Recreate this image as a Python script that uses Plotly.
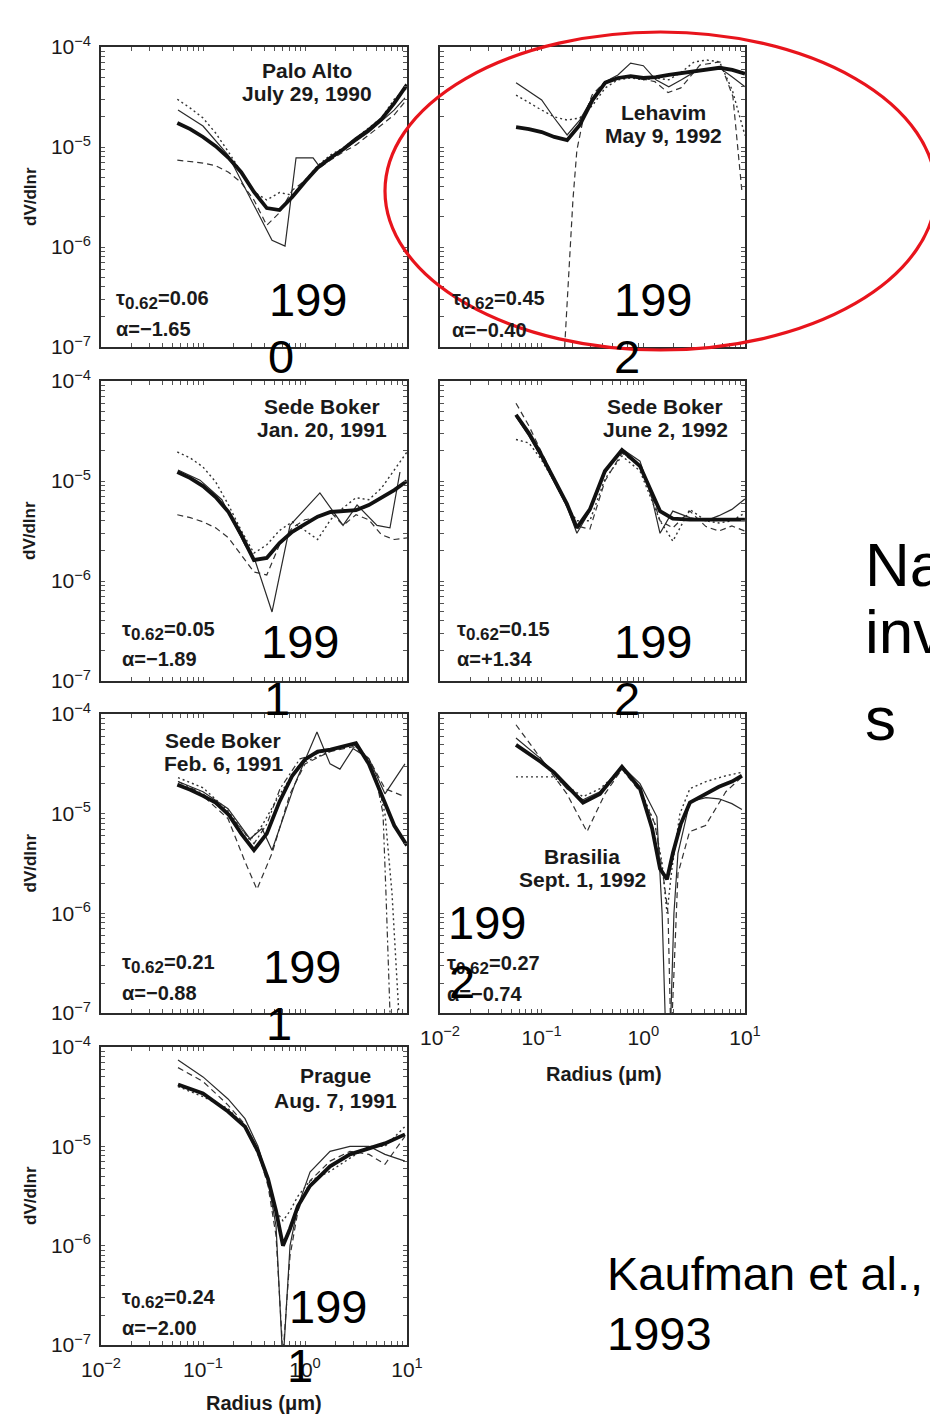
import plotly.graph_objects as go

# ---------------- data (radius in micrometres, dV/dlnr) ----------------
GRID = [0.056, 0.075, 0.1, 0.133, 0.178, 0.237, 0.316, 0.422, 0.562, 0.75,
        1.0, 1.33, 1.78, 2.37, 3.16, 4.22, 5.62, 7.5, 10.0]

# Palo Alto, July 29, 1990
PA_thick = [1.74e-5, 1.51e-5, 1.26e-5, 1.02e-5, 7.8e-6, 5.6e-6, 3.55e-6, 2.45e-6, 2.34e-6, 3.16e-6,
            4.5e-6, 6.2e-6, 7.8e-6, 9.5e-6, 1.2e-5, 1.48e-5, 1.9e-5, 2.75e-5, 4.2e-5]
PA_dash = [7.4e-6, 7.2e-6, 6.9e-6, 6.5e-6, 5.6e-6, 4.4e-6, 2.95e-6, 1.65e-6, 2.2e-6, 3.7e-6,
           4.6e-6, 6.0e-6, 7.4e-6, 8.9e-6, 1.05e-5, 1.32e-5, 1.66e-5, 2.1e-5, 3.0e-5]
PA_dot = [3.0e-5, 2.45e-5, 1.95e-5, 1.38e-5, 8.9e-6, 5.6e-6, 3.55e-6, 2.95e-6, 3.5e-6, 3.3e-6,
          4.7e-6, 6.5e-6, 8.3e-6, 9.8e-6, 1.23e-5, 1.55e-5, 1.95e-5, 3.0e-5, 3.9e-5]
PA_thin_r = [0.0569, 0.1, 0.176, 0.316, 0.475, 0.637, 0.817, 1.20, 1.40, 2.36, 4.24, 7.47, 9.55]
PA_thin = [2.34e-5, 1.62e-5, 8.3e-6, 2.6e-6, 1.17e-6, 1.02e-6, 7.8e-6, 7.8e-6, 6.3e-6, 9.3e-6,
           1.41e-5, 2.34e-5, 3.1e-5]

# Lehavim, May 9, 1992
LE_thick = [1.58e-5, 1.51e-5, 1.41e-5, 1.26e-5, 1.17e-5, 1.66e-5, 2.95e-5, 4.4e-5, 4.9e-5, 5.1e-5,
            4.9e-5, 5.0e-5, 5.25e-5, 5.5e-5, 5.75e-5, 6.0e-5, 6.2e-5, 5.9e-5, 5.4e-5]
LE_thin = [4.4e-5, 3.6e-5, 2.95e-5, 1.95e-5, 1.32e-5, 1.86e-5, 3.1e-5, 4.5e-5, 5.25e-5, 6.9e-5,
           6.5e-5, 4.7e-5, 4.0e-5, 4.7e-5, 5.6e-5, 5.9e-5, 6.2e-5, 5.0e-5, 4.0e-5]
LE_dot = [3.3e-5, 2.75e-5, 2.34e-5, 2.0e-5, 1.86e-5, 1.95e-5, 2.6e-5, 3.9e-5, 4.7e-5, 4.9e-5,
          4.7e-5, 4.9e-5, 4.7e-5, 5.6e-5, 7.1e-5, 7.4e-5, 7.1e-5, 3.7e-5, 1.3e-5]
LE_dash_r = [0.162, 0.169, 0.190, 0.203, 0.222, 0.255, 0.313, 0.419, 0.738, 1.30, 1.75, 2.34,
             3.6, 5.67, 7.6, 8.5, 9.3]
LE_dash = [5e-8, 1.1e-7, 7.4e-7, 2.95e-6, 9.3e-6, 1.86e-5, 3.3e-5, 4.5e-5, 5.1e-5, 4.5e-5, 3.5e-5,
           3.9e-5, 6.6e-5, 7.1e-5, 3.2e-5, 1.0e-5, 3.7e-6]

# Sede Boker, Jan. 20, 1991
SBJ_thick = [1.23e-5, 1.07e-5, 8.9e-6, 6.9e-6, 4.9e-6, 2.9e-6, 1.62e-6, 1.7e-6, 2.4e-6, 3.1e-6,
             3.7e-6, 4.4e-6, 4.9e-6, 5.0e-6, 5.1e-6, 5.75e-6, 6.8e-6, 8.1e-6, 1.0e-5]
SBJ_dash = [4.6e-6, 4.3e-6, 3.9e-6, 3.4e-6, 2.7e-6, 1.8e-6, 1.23e-6, 1.15e-6, 2.3e-6, 3.4e-6,
            4.1e-6, 4.3e-6, 4.9e-6, 3.6e-6, 4.6e-6, 4.1e-6, 2.9e-6, 2.6e-6, 2.7e-6]
SBJ_dot = [1.95e-5, 1.7e-5, 1.38e-5, 9.8e-6, 5.75e-6, 3.2e-6, 1.9e-6, 2.3e-6, 3.2e-6, 3.9e-6,
           3.2e-6, 2.6e-6, 4.1e-6, 5.4e-6, 6.8e-6, 6.5e-6, 8.5e-6, 1.29e-5, 1.95e-5]
SBJ_thin_r = [0.0569, 0.0935, 0.153, 0.258, 0.324, 0.475, 0.713, 1.40, 2.36, 3.24, 5.08, 6.81, 8.53]
SBJ_thin = [1.29e-5, 1.02e-5, 6.5e-6, 2.3e-6, 1.6e-6, 4.9e-7, 3.6e-6, 7.6e-6, 3.6e-6, 5.75e-6,
            3.6e-6, 3.4e-6, 1.23e-5]

# Sede Boker, June 2, 1992
SBN_r = [0.0559, 0.075, 0.0984, 0.132, 0.177, 0.222, 0.298, 0.419, 0.616, 0.927, 1.22, 1.46,
         1.95, 2.87, 4.13, 5.54, 7.43, 9.98]
SBN_thick = [4.6e-5, 3.0e-5, 1.86e-5, 1.05e-5, 5.9e-6, 3.4e-6, 5.2e-6, 1.26e-5, 2.04e-5, 1.41e-5,
             7.6e-6, 5.0e-6, 4.2e-6, 4.1e-6, 4.1e-6, 4.1e-6, 4.1e-6, 4.1e-6]
SBN_thin = [4.4e-5, 2.8e-5, 1.74e-5, 1.0e-5, 5.6e-6, 3.0e-6, 5.0e-6, 1.2e-5, 2.1e-5, 1.58e-5,
            6.6e-6, 3.0e-6, 5.0e-6, 4.3e-6, 4.0e-6, 4.5e-6, 5.2e-6, 6.6e-6]
SBN_dash = [6.0e-5, 3.55e-5, 2.0e-5, 1.1e-5, 5.9e-6, 3.55e-6, 3.3e-6, 1.0e-5, 1.9e-5, 1.41e-5,
            7.1e-6, 4.0e-6, 3.4e-6, 5.0e-6, 3.5e-6, 3.16e-6, 3.55e-6, 3.16e-6]
SBN_dot = [2.6e-5, 2.4e-5, 1.66e-5, 1.0e-5, 5.6e-6, 4.0e-6, 4.0e-6, 1.05e-5, 1.78e-5, 1.26e-5,
           6.3e-6, 4.0e-6, 2.5e-6, 5.2e-6, 4.0e-6, 3.8e-6, 4.0e-6, 4.8e-6]

# Sede Boker, Feb. 6, 1991
SBF_thick = [1.95e-5, 1.74e-5, 1.51e-5, 1.29e-5, 9.8e-6, 6.3e-6, 4.3e-6, 6.3e-6, 1.32e-5, 2.4e-5,
             3.5e-5, 4.2e-5, 4.4e-5, 4.7e-5, 5.1e-5, 3.16e-5, 1.58e-5, 7.6e-6, 4.8e-6]
SBF_thin_r = [0.0569, 0.1, 0.176, 0.289, 0.379, 0.475, 0.798, 1.31, 1.76, 2.20, 2.96, 4.24, 6.08, 9.55]
SBF_thin = [2.1e-5, 1.66e-5, 1.12e-5, 5.6e-6, 7.1e-6, 4.3e-6, 2.0e-5, 6.6e-5, 3.16e-5, 2.8e-5,
            4.5e-5, 3.55e-5, 1.58e-5, 3.16e-5]
SBF_dash_r = [0.0569, 0.1, 0.176, 0.258, 0.338, 0.475, 0.713, 1.0, 1.76, 2.96, 4.24, 6.08, 9.55]
SBF_dash = [2.0e-5, 1.51e-5, 8.9e-6, 3.3e-6, 1.74e-6, 4.0e-6, 1.58e-5, 3.16e-5, 4.2e-5, 4.7e-5,
            3.55e-5, 1.78e-5, 1.48e-5]
SBF_dot_r = [0.0569, 0.1, 0.176, 0.289, 0.379, 0.569, 0.893, 1.76, 2.96, 4.24, 5.2, 6.08, 7.13,
             7.98, 8.53]
SBF_dot = [2.3e-5, 1.82e-5, 1.07e-5, 5.4e-6, 7.6e-6, 1.58e-5, 3.16e-5, 4.2e-5, 5.0e-5, 3.55e-5,
           2.0e-5, 1.0e-5, 1.58e-6, 1.58e-7, 6.3e-8]
SBF_dd_r = [0.0569, 0.1, 0.176, 0.316, 0.424, 0.569, 0.893, 1.76, 2.96, 4.24, 5.2, 5.82, 6.22,
            6.66, 6.97]
SBF_dd = [2.1e-5, 1.58e-5, 1.0e-5, 5.0e-6, 7.9e-6, 1.78e-5, 3.55e-5, 4.4e-5, 5.0e-5, 3.55e-5,
          1.78e-5, 1.0e-5, 1.58e-6, 1.26e-7, 5e-8]

# Brasilia, Sept. 1, 1992
BR_r = [0.0559, 0.075, 0.0984, 0.132, 0.177, 0.255, 0.374, 0.616, 0.927, 1.22, 1.46, 1.71, 1.95,
        2.34, 2.87, 4.13, 5.54, 7.43, 9.33]
BR_thick = [4.9e-5, 4.0e-5, 3.3e-5, 2.6e-5, 1.9e-5, 1.29e-5, 1.58e-5, 2.95e-5, 1.78e-5, 7.1e-6,
            2.8e-6, 2.2e-6, 4.0e-6, 7.9e-6, 1.29e-5, 1.58e-5, 1.86e-5, 2.1e-5, 2.4e-5]
BR_thin_r = [0.0559, 0.0984, 0.177, 0.255, 0.374, 0.616, 0.927, 1.36, 1.53, 1.67, 1.83, 2.0, 2.19,
             2.87, 4.13, 5.54, 7.43, 9.33]
BR_thin = [5.75e-5, 3.55e-5, 1.78e-5, 1.38e-5, 1.66e-5, 3.0e-5, 2.0e-5, 9.3e-6, 1.0e-6, 5e-8, 5e-8,
           1.0e-6, 4.0e-6, 1.32e-5, 1.45e-5, 1.41e-5, 1.26e-5, 1.1e-5]
BR_dash_r = [0.0559, 0.0984, 0.177, 0.279, 0.419, 0.616, 0.927, 1.30, 1.56, 1.75, 1.87, 2.0, 2.19,
             2.85, 4.09, 6.48, 9.33]
BR_dash = [7.8e-5, 3.55e-5, 1.58e-5, 6.6e-6, 1.58e-5, 2.8e-5, 1.66e-5, 7.9e-6, 2.5e-6, 1.0e-6, 5e-8,
           2.5e-7, 2.5e-6, 6.6e-6, 7.6e-6, 1.66e-5, 2.34e-5]
BR_dot_r = [0.0559, 0.129, 0.255, 0.374, 0.616, 0.927, 1.30, 1.53, 1.71, 1.91, 2.29, 2.87, 4.13,
            6.48, 9.33]
BR_dot = [2.34e-5, 2.34e-5, 1.48e-5, 1.78e-5, 2.8e-5, 1.78e-5, 7.9e-6, 3.16e-6, 1.0e-6, 2.8e-6,
          1.0e-5, 1.78e-5, 2.1e-5, 2.4e-5, 2.6e-5]

# Prague, Aug. 7, 1991
PR_r = [0.0569, 0.1, 0.176, 0.258, 0.346, 0.434, 0.520, 0.608, 0.713, 0.853, 1.12, 1.76, 2.76,
        4.24, 6.08, 9.55]
PR_thick = [4.2e-5, 3.4e-5, 2.24e-5, 1.58e-5, 8.9e-6, 4.7e-6, 2.24e-6, 1.0e-6, 1.48e-6, 2.5e-6,
            4.0e-6, 6.3e-6, 8.3e-6, 9.5e-6, 1.07e-5, 1.32e-5]
PR_thin = [7.4e-5, 5.0e-5, 3.0e-5, 1.9e-5, 1.0e-5, 4.5e-6, 1.58e-6, 6.3e-8, 1.0e-6, 2.5e-6,
           5.5e-6, 8.9e-6, 1.0e-5, 1.0e-5, 8.3e-6, 7.1e-6]
PR_dash = [6.2e-5, 4.5e-5, 2.6e-5, 1.66e-5, 8.9e-6, 4.0e-6, 1.26e-6, 7.9e-8, 7.9e-7, 2.24e-6,
           4.5e-6, 7.1e-6, 8.9e-6, 8.3e-6, 6.6e-6, 1.26e-5]
PR_dot = [4.0e-5, 3.16e-5, 2.4e-5, 1.58e-5, 8.3e-6, 4.5e-6, 2.24e-6, 1.78e-6, 2.24e-6, 3.16e-6,
          4.5e-6, 5.6e-6, 7.6e-6, 1.0e-5, 1.0e-5, 1.58e-5]

PANEL_TITLES = [("Palo Alto", "July 29, 1990"), ("Lehavim", "May 9, 1992"),
                ("Sede Boker", "Jan. 20, 1991"), ("Sede Boker", "June 2, 1992"),
                ("Sede Boker", "Feb. 6, 1991"), ("Brasilia", "Sept. 1, 1992"),
                ("Prague", "Aug. 7, 1991")]
TAU = ["0.06", "0.45", "0.05", "0.15", "0.21", "0.27", "0.24"]
ALPHA = ["−1.65", "−0.40", "−1.89", "+1.34", "−0.88", "−0.74", "−2.00"]
YEAR_END = ["0", "2", "1", "2", "1", "2", "1"]

Y_TICKS = [1e-7, 1e-6, 1e-5, 1e-4]
Y_TEXT = ["10<sup>−7</sup>", "10<sup>−6</sup>", "10<sup>−5</sup>", "10<sup>−4</sup>"]
X_TICKS = [0.01, 0.1, 1, 10]
X_TEXT = ["10<sup>−2</sup>", "10<sup>−1</sup>", "10<sup>0</sup>", "10<sup>1</sup>"]

# ---------------- layout geometry (pixels) ----------------
W, H = 930, 1415
FONT = "Liberation Sans, Arial, sans-serif"
COLS = [(101, 407), (440, 745)]
ROWS = [(47, 347), (381, 681), (714, 1013), (1047, 1345)]
PANELS = [(0, 0), (0, 1), (1, 0), (1, 1), (2, 0), (2, 1), (3, 0)]


def fx(x):
    return x / W


def fy(y):
    return 1 - y / H


STY = {
    "thick": dict(color="#111111", width=3.8),
    "thin": dict(color="#2a2a2a", width=1.2),
    "dash": dict(color="#333333", width=1.2, dash="6px,4px"),
    "dot": dict(color="#333333", width=1.4, dash="2px,3px"),
    "dd": dict(color="#333333", width=1.2, dash="6px,3px,2px,3px"),
}

SERIES = [
    [(GRID, PA_dot, "dot"), (GRID, PA_dash, "dash"), (PA_thin_r, PA_thin, "thin"), (GRID, PA_thick, "thick")],
    [(GRID, LE_dot, "dot"), (LE_dash_r, LE_dash, "dash"), (GRID, LE_thin, "thin"), (GRID, LE_thick, "thick")],
    [(GRID, SBJ_dot, "dot"), (GRID, SBJ_dash, "dash"), (SBJ_thin_r, SBJ_thin, "thin"), (GRID, SBJ_thick, "thick")],
    [(SBN_r, SBN_dot, "dot"), (SBN_r, SBN_dash, "dash"), (SBN_r, SBN_thin, "thin"), (SBN_r, SBN_thick, "thick")],
    [(SBF_dot_r, SBF_dot, "dot"), (SBF_dd_r, SBF_dd, "dd"), (SBF_dash_r, SBF_dash, "dash"),
     (SBF_thin_r, SBF_thin, "thin"), (GRID, SBF_thick, "thick")],
    [(BR_dot_r, BR_dot, "dot"), (BR_dash_r, BR_dash, "dash"), (BR_thin_r, BR_thin, "thin"), (BR_r, BR_thick, "thick")],
    [(PR_r, PR_dot, "dot"), (PR_r, PR_dash, "dash"), (PR_r, PR_thin, "thin"), (PR_r, PR_thick, "thick")],
]

fig = go.Figure()
layout = dict(template="none", width=W, height=H, autosize=False, margin=dict(l=0, r=0, t=0, b=0, pad=0),
              paper_bgcolor="white", plot_bgcolor="white", showlegend=False)

# decade ticks carry the labels, the 2..9 ticks in between are unlabeled
x_vals = [m * 10 ** e for e in (-2, -1, 0) for m in range(1, 10)] + [10]
x_text = [X_TEXT[[-2, -1, 0].index(e)] if m == 1 else "" for e in (-2, -1, 0) for m in range(1, 10)] + [X_TEXT[3]]
y_vals = [m * 10 ** e for e in (-7, -6, -5) for m in range(1, 10)] + [1e-4]
y_text = [Y_TEXT[[-7, -6, -5].index(e)] if m == 1 else "" for e in (-7, -6, -5) for m in range(1, 10)] + [Y_TEXT[3]]

for i, (row, col) in enumerate(PANELS):
    n = "" if i == 0 else str(i + 1)
    x0, x1 = COLS[col]
    y0, y1 = ROWS[row]
    show_x = (row, col) in [(2, 1), (3, 0)]
    show_y = col == 0
    common = dict(type="log", showgrid=False, zeroline=False, showline=True, linecolor="#2b2b2b",
                  linewidth=1.6, mirror="allticks", ticks="inside", ticklen=4, tickwidth=1,
                  tickcolor="#555", automargin=False,
                  tickfont=dict(family=FONT, size=21, color="#1a1a1a"))
    layout["xaxis" + n] = dict(common, domain=[fx(x0), fx(x1)], range=[-2, 1], anchor="y" + n,
                               tickmode="array", tickvals=x_vals, ticktext=x_text,
                               showticklabels=show_x, ticklabelstandoff=5)
    layout["yaxis" + n] = dict(common, domain=[fy(y1), fy(y0)], range=[-7, -4], anchor="x" + n,
                               tickmode="array", tickvals=y_vals, ticktext=y_text,
                               showticklabels=show_y, ticklabelstandoff=4)
    for xs, ys, kind in SERIES[i]:
        fig.add_trace(go.Scatter(x=xs, y=ys, mode="lines", line=STY[kind], xaxis="x" + n,
                                 yaxis="y" + n, hoverinfo="skip", cliponaxis=True))

anns = []


def ann(text, x, y, size, anchor="left", bold=False, color="#111", angle=0, family=FONT):
    anns.append(dict(text=("<b>%s</b>" % text) if bold else text, x=fx(x), y=fy(y),
                     xref="paper", yref="paper", xanchor=anchor, yanchor="middle",
                     showarrow=False, borderpad=0, textangle=angle,
                     font=dict(family=family, size=size, color=color)))


TITLE_POS = [(307, 70, 93), (663, 113, 136), (322, 406, 430), (665, 407, 430),
             (223, 740, 763), (582, 856, 879), (335, 1075, 1100)]
for (t1, t2), (cx, c1, c2) in zip(PANEL_TITLES, TITLE_POS):
    ann(t1, cx, c1, 21, "center", bold=True, color="#1a1a1a")
    ann(t2, cx, c2, 21, "center", bold=True, color="#1a1a1a")

TAU_POS = [(115, 300, 329), (451, 300, 330), (121, 631, 659), (456, 631, 659),
           (121, 964, 993), (446, 965, 994), (121, 1299, 1328)]
for tau, alp, (lx, c1, c2) in zip(TAU, ALPHA, TAU_POS):
    ann("τ<sub><span style='font-size:17px'>0.62</span></sub>=" + tau, lx, c1, 20, "left",
        bold=True, color="#1a1a1a")
    ann("α=" + alp, lx, c2, 20, "left", bold=True, color="#1a1a1a")

# y titles
for row in range(4):
    yc = (ROWS[row][0] + ROWS[row][1]) / 2
    ann("dV/dlnr", 30, yc, 17, "center", bold=True, color="#1a1a1a", angle=-90)
ann("Radius (μm)", 604, 1074, 20, "center", bold=True, color="#1a1a1a")
ann("Radius (μm)", 264, 1403, 20, "center", bold=True, color="#1a1a1a")

# overlaid slide text
YEAR_POS = [(268, 300, 267, 357), (613, 300, 613, 357), (260, 641, 263, 698), (613, 641, 613, 698),
            (262, 966, 265, 1023), (447, 923, 448, 982), (288, 1306, 286, 1365)]
for end, (x1_, y1_, x2_, y2_) in zip(YEAR_END, YEAR_POS):
    ann("199", x1_, y1_, 47, "left", color="#000")
    ann(end, x2_, y2_, 47, "left", color="#000")

ann("Na", 864, 564, 62, "left", color="#000")
ann("inv", 864, 631, 62, "left", color="#000")
ann("s", 864, 718, 62, "left", color="#000")
ann("Kaufman et al.,", 606, 1273, 47, "left", color="#000")
ann("1993", 606, 1333, 47, "left", color="#000")

layout["annotations"] = anns
layout["shapes"] = [dict(type="circle", xref="paper", yref="paper",
                         x0=fx(385), x1=fx(936), y0=fy(350), y1=fy(32),
                         line=dict(color="#e8141c", width=3.2), fillcolor="rgba(0,0,0,0)",
                         layer="above")]

fig.update_layout(**layout)
fig.write_html("out.html")
